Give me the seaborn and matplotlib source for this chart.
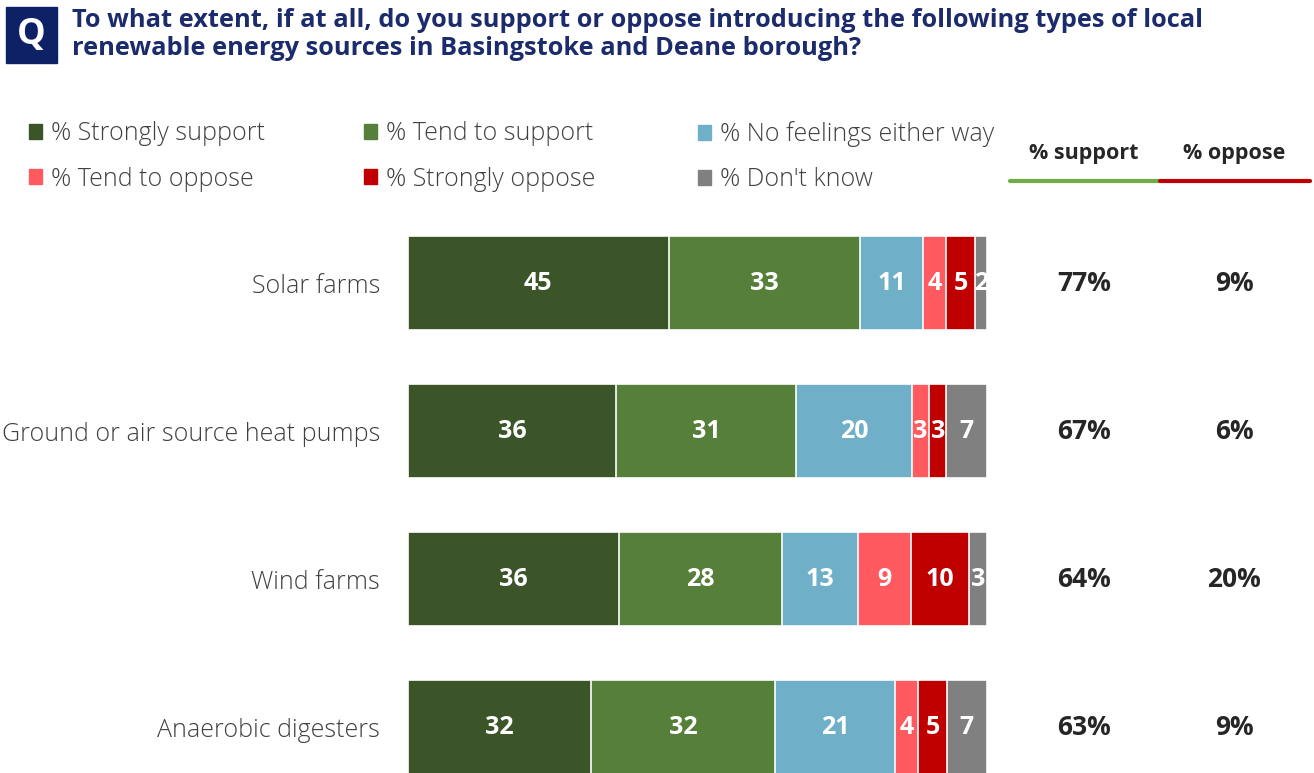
import numpy as np
import pandas as pd
import matplotlib.pyplot as plt
import matplotlib.patches as mpatches
from matplotlib.lines import Line2D
import seaborn as sns

# data
sources = ["Solar farms", "Ground or air source heat pumps", "Wind farms", "Anaerobic digesters"]
levels = ["% Strongly support", "% Tend to support", "% No feelings either way",
          "% Tend to oppose", "% Strongly oppose", "% Don't know"]
strongly_support = [45, 36, 36, 32]
tend_support = [33, 31, 28, 32]
no_feelings = [11, 20, 13, 21]
tend_oppose = [4, 3, 9, 4]
strongly_oppose = [5, 3, 10, 5]
dont_know = [2, 7, 3, 7]
net_support = [77, 67, 64, 63]
net_oppose = [9, 6, 20, 9]

colors = ["#3b5529", "#56803a", "#6fafc7", "#ff5a5f", "#c00000", "#808080"]

W, H = 1314, 773
def fx(px):
    return px / W
def fy(py):
    return 1 - py / H

sns.set_theme(style="white")
plt.rcParams["font.family"] = ["Open Sans", "DejaVu Sans"]

df = pd.DataFrame({"source": sources,
                   levels[0]: strongly_support, levels[1]: tend_support,
                   levels[2]: no_feelings, levels[3]: tend_oppose,
                   levels[4]: strongly_oppose, levels[5]: dont_know})
# rounded figures don't always add to 100, so scale each row to a full bar
share = df[levels].div(df[levels].sum(axis=1), axis=0) * 100
cum = share.cumsum(axis=1)

fig = plt.figure(figsize=(W / 100, H / 100), dpi=100)
ax = fig.add_axes([fx(408), 0, fx(987) - fx(408), fy(219.4)])

# stacked bars: draw cumulative totals from the longest down
for i in reversed(range(len(levels))):
    sns.barplot(x=cum[levels[i]], y=df["source"], orient="h", color=colors[i],
                saturation=1, width=0.64, edgecolor="white", linewidth=1.2, ax=ax)

ax.set_xlim(0, 100)
ax.set_ylim(3.31, -0.43)
ax.set_xlabel("")
ax.set_ylabel("")
ax.set_xticks([])
sns.despine(ax=ax, left=True, bottom=True)
ax.tick_params(axis="y", length=0, pad=20, labelsize=18, labelcolor="#404040")
for lab in ax.get_yticklabels():
    lab.set_fontweight("light")

# values inside segments, clipped to their segment
for i, lev in enumerate(levels):
    for j in range(len(sources)):
        start = cum[levels[i - 1]].iloc[j] if i > 0 else 0
        w = share[lev].iloc[j]
        t = ax.text(start + w / 2, j, str(df[lev].iloc[j]), ha="center", va="center",
                    color="white", fontsize=18, fontweight="bold")
        t.set_clip_path(mpatches.Rectangle((start, j - 0.32), w, 0.64,
                                           transform=ax.transData))

# net support / oppose columns
for j in range(len(sources)):
    ax.text(116.8, j, f"{net_support[j]}%", ha="center", va="center",
            fontsize=19, fontweight="bold", color="#262626", clip_on=False)
    ax.text(142.7, j, f"{net_oppose[j]}%", ha="center", va="center",
            fontsize=19, fontweight="bold", color="#262626", clip_on=False)

fig.text(fx(1084), fy(154), "% support", ha="center", va="center",
         fontsize=15.5, fontweight="bold", color="#262626")
fig.text(fx(1234), fy(154), "% oppose", ha="center", va="center",
         fontsize=15.5, fontweight="bold", color="#262626")
fig.add_artist(Line2D([fx(1010), fx(1160)], [fy(181), fy(181)], color="#70ad47", lw=3))
fig.add_artist(Line2D([fx(1160), fx(1310)], [fy(181), fy(181)], color="#c00000", lw=3))

# legend: three columns of two entries each
col_x = [6.5, 341.5, 675.5]
for c in range(3):
    handles = [mpatches.Patch(color=colors[k], label=levels[k]) for k in (c, c + 3)]
    leg = fig.legend(handles=handles, loc="upper left",
                     bbox_to_anchor=(fx(col_x[c]), fy(99)),
                     frameon=False, fontsize=18, handlelength=0.52, handleheight=0.52,
                     handletextpad=0.36, labelspacing=0.8, labelcolor="#404040")
    for txt in leg.get_texts():
        txt.set_fontweight("light")

# title with Q badge
fig.add_artist(mpatches.Rectangle((fx(6), fy(63)), fx(51), 56 / H, color="#0f2166"))
fig.text(fx(31.5), fy(35), "Q", ha="center", va="center", color="white",
         fontsize=26, fontweight="bold")
fig.text(fx(72), fy(8), "To what extent, if at all, do you support or oppose introducing the following types of local\n"
         "renewable energy sources in Basingstoke and Deane borough?",
         ha="left", va="top", fontsize=18.3, fontweight="bold", color="#1b2b6b",
         linespacing=1.18)

fig.savefig("out.png", dpi=100)
